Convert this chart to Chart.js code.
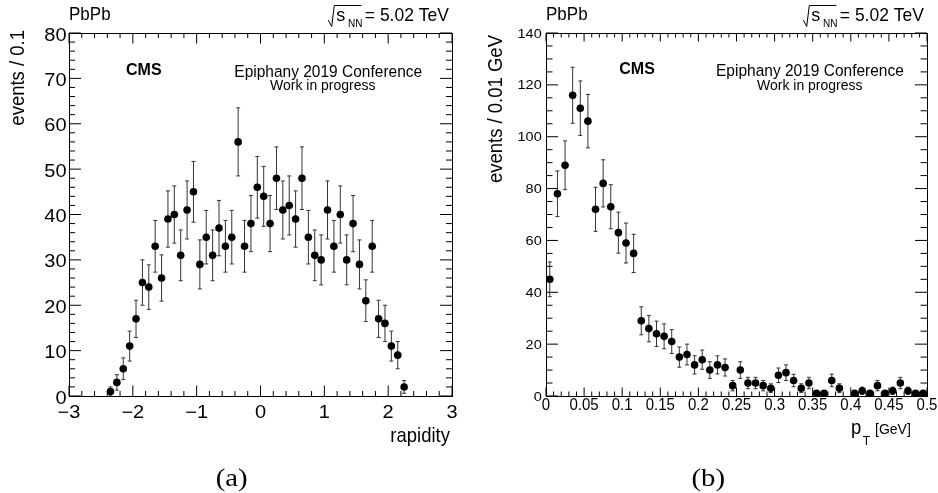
<!DOCTYPE html>
<html><head><meta charset="utf-8">
<script src="https://cdn.jsdelivr.net/npm/chart.js@4.4.1/dist/chart.umd.min.js"></script>
<style>
html,body{margin:0;padding:0;background:#fff;}
#wrap{position:relative;width:938px;height:493px;overflow:hidden;background:#fff;}
canvas{position:absolute;top:0;}
</style></head><body>
<div id="wrap">
<canvas id="cA" width="470" height="493" style="left:0;width:470px;height:493px"></canvas>
<canvas id="cB" width="468" height="493" style="left:470px;width:468px;height:493px"></canvas>
</div>
<script>
// ---------- data ----------
const rapidityCenters = [-2.35,-2.25,-2.15,-2.05,-1.95,-1.85,-1.75,-1.65,-1.55,-1.45,-1.35,-1.25,-1.15,-1.05,-0.95,-0.85,-0.75,-0.65,-0.55,-0.45,-0.35,-0.25,-0.15,-0.05,0.05,0.15,0.25,0.35,0.45,0.55,0.65,0.75,0.85,0.95,1.05,1.15,1.25,1.35,1.45,1.55,1.65,1.75,1.85,1.95,2.05,2.15,2.25];
const rapidityCounts  = [1,3,6,11,17,25,24,33,26,39,40,31,41,45,29,35,31,37,33,35,56,33,38,46,44,38,48,41,42,39,48,35,31,30,41,33,40,30,38,29,21,33,17,16,11,9,2];
const rapidityErrors  = [1.0,1.7,2.4,3.3,4.1,5.0,4.9,5.7,5.1,6.2,6.3,5.6,6.4,6.7,5.4,5.9,5.6,6.1,5.7,5.9,7.5,5.7,6.2,6.8,6.6,6.2,6.9,6.4,6.5,6.2,6.9,5.9,5.6,5.5,6.4,5.7,6.3,5.5,6.2,5.4,4.6,5.7,4.1,4.0,3.3,3.0,1.4];

const ptCenters = [0.005,0.015,0.025,0.035,0.045,0.055,0.065,0.075,0.085,0.095,0.105,0.115,0.125,0.135,0.145,0.155,0.165,0.175,0.185,0.195,0.205,0.215,0.225,0.235,0.245,0.255,0.265,0.275,0.285,0.295,0.305,0.315,0.325,0.335,0.345,0.355,0.365,0.375,0.385,0.395,0.405,0.415,0.425,0.435,0.445,0.455,0.465,0.475,0.485,0.495];
const ptCounts  = [45,78,89,116,111,106,72,82,73,63,59,55,29,26,24,23,21,15,16,12,14,10,12,11,4,10,5,5,4,3,8,9,6,3,5,1,1,6,3,null,1,2,1,4,1,2,5,2,1,1];
const ptErrors  = [6.7,8.8,9.4,10.8,10.5,10.3,8.5,9.1,8.5,7.9,7.7,7.4,5.4,5.1,4.9,4.8,4.6,3.9,4.0,3.5,3.7,3.2,3.5,3.3,2.0,3.2,2.2,2.2,2.0,1.7,2.8,3.0,2.4,1.7,2.2,1.0,1.0,2.4,1.7,null,1.0,1.4,1.0,2.0,1.0,1.4,2.2,1.4,1.0,1.0];

const rapidityTickLabels = ['\u22123','\u22122','\u22121','0','1','2','3'];
const rapidityYTickLabels = ['0','10','20','30','40','50','60','70','80'];
const ptTickLabels = ['0','0.05','0.1','0.15','0.2','0.25','0.3','0.35','0.4','0.45','0.5'];
const ptYTickLabels = ['0','20','40','60','80','100','120','140'];

// ---------- helpers ----------
const SANS = '"Liberation Sans", Arial, Helvetica, sans-serif';
const SERIF = '"Liberation Serif", "Times New Roman", serif';
function txt(ctx, s, x, y, o) {
  ctx.save();
  ctx.translate(x, y);
  if (o.rot) ctx.rotate(-Math.PI / 2);
  ctx.scale(o.sx || 1, o.sy || 1);
  ctx.font = o.font;
  ctx.fillStyle = '#000';
  ctx.textAlign = o.align || 'left';
  ctx.textBaseline = 'alphabetic';
  ctx.fillText(s, 0, 0);
  ctx.restore();
}

const panelStyles = {};

const rootPlugin = {
  id: 'rootStyle',
  beforeDatasetsDraw(chart) {
    const ctx = chart.ctx, xs = chart.scales.x, ys = chart.scales.y;
    const p = panelStyles[chart.canvas.id];
    ctx.save();
    ctx.strokeStyle = '#333';
    ctx.lineWidth = 1;
    ctx.beginPath();
    chart.data.datasets[0].data.forEach((pt, i) => {
      const e = p.errs[i];
      if (e == null) return;
      const px = xs.getPixelForValue(pt.x);
      const y1 = ys.getPixelForValue(pt.y - e);
      const y2 = ys.getPixelForValue(pt.y + e);
      ctx.moveTo(px, y1); ctx.lineTo(px, y2);
      ctx.moveTo(px - 2, y1); ctx.lineTo(px + 2, y1);
      ctx.moveTo(px - 2, y2); ctx.lineTo(px + 2, y2);
    });
    ctx.stroke();
    ctx.restore();
  },
  afterDraw(chart) {
    const p = panelStyles[chart.canvas.id];
    const ctx = chart.ctx, a = chart.chartArea, xs = chart.scales.x, ys = chart.scales.y;
    ctx.save();
    ctx.strokeStyle = '#000';
    ctx.lineWidth = 1;
    ctx.beginPath();
    const xv = xs.ticks.map(t => t.value);
    for (let i = 0; i < xv.length; i++) {
      const px = xs.getPixelForValue(xv[i]);
      ctx.moveTo(px, a.bottom); ctx.lineTo(px, a.bottom - p.xMaj);
      ctx.moveTo(px, a.top); ctx.lineTo(px, a.top + p.xMaj);
      if (i < xv.length - 1) {
        for (let j = 1; j < p.xDiv; j++) {
          const q = xs.getPixelForValue(xv[i] + (xv[i + 1] - xv[i]) * j / p.xDiv);
          ctx.moveTo(q, a.bottom); ctx.lineTo(q, a.bottom - p.xMin);
          ctx.moveTo(q, a.top); ctx.lineTo(q, a.top + p.xMin);
        }
      }
    }
    const yv = ys.ticks.map(t => t.value);
    for (let i = 0; i < yv.length; i++) {
      const py = ys.getPixelForValue(yv[i]);
      ctx.moveTo(a.left, py); ctx.lineTo(a.left + p.yMaj, py);
      ctx.moveTo(a.right, py); ctx.lineTo(a.right - p.yMaj, py);
      if (i < yv.length - 1) {
        for (let j = 1; j < p.yDiv; j++) {
          const q = ys.getPixelForValue(yv[i] + (yv[i + 1] - yv[i]) * j / p.yDiv);
          ctx.moveTo(a.left, q); ctx.lineTo(a.left + p.yMin, q);
          ctx.moveTo(a.right, q); ctx.lineTo(a.right - p.yMin, q);
        }
      }
    }
    ctx.stroke();
    ctx.strokeRect(Math.round(a.left) + 0.5, Math.round(a.top) + 0.5,
                   Math.round(a.right) - Math.round(a.left), Math.round(a.bottom) - Math.round(a.top));
    ctx.restore();

    // tick labels
    xv.forEach((v, i) => {
      txt(ctx, p.xLabels[i], xs.getPixelForValue(v), p.xLabY, {font: p.xLabFont, align: 'center', sy: p.xLabSy});
    });
    yv.forEach((v, i) => {
      txt(ctx, p.yLabels[i], p.yLabX, ys.getPixelForValue(v) + p.yLabDy, {font: p.yLabFont, align: 'right', sy: p.yLabSy});
    });

    // header: PbPb and sqrt(s_NN)
    txt(ctx, 'PbPb', a.left, 20, {font: '17px ' + SANS, sy: 1.05});
    const R = p.rad;
    ctx.save();
    ctx.strokeStyle = '#000'; ctx.lineWidth = 1;
    ctx.beginPath();
    ctx.moveTo(R, 20); ctx.lineTo(R + 3.4, 26.5); ctx.lineTo(R + 6, 5.5); ctx.lineTo(R + 33, 5.5);
    ctx.stroke();
    ctx.restore();
    txt(ctx, 's', R + 8, 21, {font: '18px ' + SANS});
    txt(ctx, 'NN', R + 19.8, 26.5, {font: '10px ' + SANS, sy: 1.15});
    txt(ctx, '= 5.02 TeV', R + 36.5, 20.5, {font: '17.5px ' + SANS, sy: 1.05});

    // CMS + conference
    txt(ctx, 'CMS', p.cms[0], p.cms[1], {font: 'bold 16px ' + SANS});
    txt(ctx, 'Epiphany 2019 Conference', p.epi[0], p.epi[1], {font: '15.5px ' + SANS, sy: 1.1});
    txt(ctx, 'Work in progress', p.wip[0], p.wip[1], {font: '14px ' + SANS, sy: 1.1});

    // axis titles
    txt(ctx, p.yTitle, p.yTitlePos[0], p.yTitlePos[1], {font: '18.5px ' + SANS, align: 'right', rot: true, sy: 1.05});
    if (p.xTitleKind === 'rapidity') {
      txt(ctx, 'rapidity', 450, 441.5, {font: '18.5px ' + SANS, align: 'right', sy: 1.05});
    } else {
      txt(ctx, 'p', 381, 434, {font: '18.5px ' + SANS, sy: 1.05});
      txt(ctx, 'T', 392.7, 445, {font: '12px ' + SANS});
      txt(ctx, '[GeV]', 405, 434, {font: '14px ' + SANS, sy: 1.05});
    }

    // panel label
    txt(ctx, p.panel, p.panelX, 486, {font: '25px ' + SERIF, align: 'center', sx: 1.15});
  }
};

function makeChart(canvasId, xsArr, ysArr, errArr, cfg) {
  const pts = [], errs = [];
  xsArr.forEach((x, i) => {
    if (ysArr[i] == null) return;
    pts.push({x: x, y: ysArr[i]});
    errs.push(errArr[i]);
  });
  cfg.root.errs = errs;
  panelStyles[canvasId] = cfg.root;
  return new Chart(document.getElementById(canvasId), {
    type: 'scatter',
    data: {datasets: [{
      data: pts,
      pointRadius: 3.8, pointHoverRadius: 3.8,
      pointBackgroundColor: '#000', pointBorderWidth: 0, borderWidth: 0,
      showLine: false
    }]},
    options: {
      responsive: false, animation: false, devicePixelRatio: 1,
      events: [],
      layout: {padding: {left: 0, right: cfg.padRight, top: cfg.top, bottom: 0}},
      plugins: {legend: {display: false}, tooltip: {enabled: false}},
      scales: {
        x: {type: 'linear', min: cfg.xMin, max: cfg.xMax,
            ticks: {display: false, stepSize: cfg.xStep},
            grid: {display: false}, border: {display: false},
            afterFit: s => { s.height = cfg.xAxisH; }},
        y: {type: 'linear', min: cfg.yMin, max: cfg.yMax,
            ticks: {display: false, stepSize: cfg.yStep},
            grid: {display: false}, border: {display: false},
            afterFit: s => { s.width = cfg.yAxisW; }}
      }
    },
    plugins: [rootPlugin]
  });
}

// ---------- left panel: rapidity ----------
makeChart('cA', rapidityCenters, rapidityCounts, rapidityErrors, {
  padRight: 18, top: 33, xAxisH: 97, yAxisW: 69,
  xMin: -3, xMax: 3, xStep: 1, yMin: 0, yMax: 80, yStep: 10,
  root: {
    xMaj: 10.5, xMin: 5, xDiv: 5, yMaj: 12, yMin: 6, yDiv: 5,
    xLabels: rapidityTickLabels, xLabY: 417.5, xLabFont: '20px ' + SANS, xLabSy: 0.9,
    yLabels: rapidityYTickLabels, yLabX: 66.5, yLabDy: 7.5, yLabFont: '20px ' + SANS, yLabSy: 0.9,
    rad: 328.3, cms: [126, 75], epi: [234.3, 76.7], wip: [270, 90],
    yTitle: 'events / 0.1', yTitlePos: [24, 30],
    xTitleKind: 'rapidity',
    panel: '(a)', panelX: 231.7
  }
});

// ---------- right panel: pT ----------
makeChart('cB', ptCenters, ptCounts, ptErrors, {
  padRight: 11, top: 33, xAxisH: 97, yAxisW: 76,
  xMin: 0, xMax: 0.5, xStep: 0.05, yMin: 0, yMax: 140, yStep: 20,
  root: {
    xMaj: 8.5, xMin: 4.5, xDiv: 5, yMaj: 12, yMin: 6.5, yDiv: 4,
    xLabels: ptTickLabels, xLabY: 409.5, xLabFont: '15px ' + SANS, xLabSy: 1.05,
    yLabels: ptYTickLabels, yLabX: 71.7, yLabDy: 4.5, yLabFont: '14.5px ' + SANS, yLabSy: 0.9,
    rad: 333.3, cms: [149.3, 73.5], epi: [246, 76], wip: [287, 90],
    yTitle: 'events / 0.01 GeV', yTitlePos: [32, 35],
    xTitleKind: 'pt',
    panel: '(b)', panelX: 238.3
  }
});
</script>
</body></html>
